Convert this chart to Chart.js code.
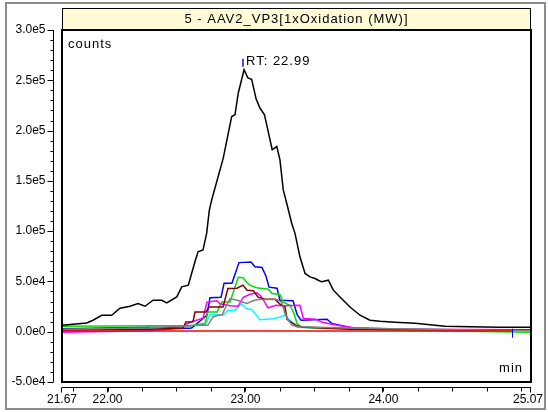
<!DOCTYPE html>
<html>
<head>
<meta charset="utf-8">
<script src="https://cdn.jsdelivr.net/npm/chart.js@4"></script>
<style>
  html, body { margin: 0; padding: 0; background: #fff; }
  canvas { display: block; }
</style>
</head>
<body>
<canvas id="xic" width="548" height="412"></canvas>
<script>
// chromatogram traces, time in min, intensity in counts
const blackT = [21.67, 21.849, 21.895, 21.958, 22.03, 22.09, 22.163, 22.221, 22.272, 22.33, 22.393, 22.429, 22.502, 22.538, 22.586, 22.61, 22.634, 22.656, 22.692, 22.719, 22.738, 22.755, 22.839, 22.9, 22.924, 22.948, 22.99, 23.018, 23.045, 23.077, 23.105, 23.138, 23.154, 23.178, 23.194, 23.227, 23.25, 23.274, 23.299, 23.335, 23.359, 23.395, 23.432, 23.468, 23.504, 23.528, 23.553, 23.601, 23.637, 23.685, 23.758, 23.83, 23.903, 23.975, 24.084, 24.229, 24.338, 24.447, 24.628, 24.845, 25.07];
const blackV = [6400, 8700, 11400, 16300, 16300, 23300, 25300, 28000, 25300, 31300, 31300, 28600, 34600, 44600, 46300, 58200, 69500, 79500, 81200, 98100, 121000, 131000, 172600, 214000, 215700, 237400, 260600, 252300, 251000, 231700, 222400, 215700, 205800, 190800, 180900, 184100, 170900, 141000, 127700, 107800, 97800, 74500, 57900, 54500, 52900, 51200, 49600, 51200, 41300, 34600, 24600, 16400, 11400, 10400, 9400, 8400, 6900, 5400, 4900, 4400, 4400];

const blueT = [21.67, 22.308, 22.562, 22.598, 22.612, 22.721, 22.743, 22.823, 22.845, 22.902, 22.953, 23.04, 23.069, 23.12, 23.149, 23.171, 23.229, 23.25, 23.345, 23.374, 23.403, 23.591, 23.627, 23.758, 23.975, 25.07];
const blueV = [2900, 4400, 3400, 3400, 3900, 16400, 33800, 34300, 48300, 48300, 68700, 69200, 64500, 63900, 55200, 44300, 43300, 31300, 30800, 17300, 11400, 12400, 8100, 4100, 2400, 1400];

const greenT = [21.67, 22.308, 22.598, 22.707, 22.728, 22.794, 22.828, 22.888, 22.948, 22.982, 23.009, 23.033, 23.081, 23.166, 23.193, 23.25, 23.274, 23.323, 23.352, 23.374, 23.403, 23.685, 24.12, 25.07];
const greenV = [5400, 5900, 5900, 8100, 19600, 19600, 29600, 29600, 54200, 53700, 49200, 46300, 43800, 42300, 38000, 37000, 29300, 26300, 18000, 8100, 4400, 3400, 1400, -600];

const maroonT = [21.67, 22.308, 22.547, 22.568, 22.62, 22.634, 22.714, 22.736, 22.837, 22.873, 22.939, 22.982, 23.011, 23.057, 23.091, 23.142, 23.214, 23.25, 23.287, 23.301, 23.323, 23.374, 23.424, 23.758, 25.07];
const maroonV = [1400, 2400, 3400, 9700, 9900, 19600, 19600, 24600, 24600, 43000, 43300, 46300, 41300, 40800, 34300, 32300, 32300, 27300, 24300, 12400, 10400, 5900, 4400, 2400, 1400];

const magentaT = [21.67, 22.308, 22.525, 22.598, 22.692, 22.721, 22.794, 22.815, 22.888, 22.946, 22.984, 23.033, 23.084, 23.113, 23.164, 23.222, 23.265, 23.395, 23.42, 23.511, 23.555, 23.664, 23.78, 24.12, 25.07];
const magentaV = [-600, 900, 3400, 9400, 13400, 29300, 30800, 27800, 25800, 25300, 34300, 37300, 38800, 35300, 23800, 26300, 25800, 26300, 13100, 12400, 9400, 6400, 4100, 2400, 1900];

const grayT = [21.67, 22.308, 22.656, 22.728, 22.765, 22.801, 22.83, 22.888, 22.939, 23.011, 23.055, 23.091, 23.229, 23.263, 23.287, 23.311, 23.338, 23.381, 23.83, 25.07];
const grayV = [2400, 3900, 6400, 6400, 14700, 16400, 16900, 33000, 31300, 28000, 30800, 32000, 32000, 29300, 18000, 11400, 6400, 4900, 3400, 900];

const cyanT = [21.67, 22.308, 22.67, 22.707, 22.743, 22.837, 22.873, 22.924, 22.973, 23.004, 23.047, 23.105, 23.2, 23.25, 23.287, 23.323, 23.352, 23.374, 23.83, 25.07];
const cyanV = [2400, 3400, 6400, 7400, 16800, 16400, 21300, 21300, 28000, 23000, 21800, 11900, 12900, 14700, 16400, 11400, 7400, 4400, 2400, 1400];

const redT = [21.67, 24.93];
const redV = [600, 600];

// axis ticks
const yMajor = [-50000, 0, 50000, 100000, 150000, 200000, 250000, 300000];
const yMinorStep = 10000;
const xLabels = [21.67, 22.00, 23.00, 24.00, 25.07];
const xMinorStep = 0.25;

const titleText = '5 - AAV2_VP3[1xOxidation (MW)]';
const rtTimes = [22.99];
const sideMarks = [24.93];

const FONT = '12px "Liberation Sans", Arial, sans-serif';
const FONT_BIG = '13px "Liberation Sans", Arial, sans-serif';

function pts(ts, vs) {
  return ts.map((t, i) => ({ x: t, y: vs[i] }));
}

function line(label, ts, vs, color) {
  return {
    label: label,
    data: pts(ts, vs),
    borderColor: color,
    borderWidth: 1.5,
    pointRadius: 0,
    tension: 0,
    fill: false
  };
}

function fmtExp(v) {
  if (v === 0) return '0.0e0';
  const e = Math.floor(Math.log10(Math.abs(v)));
  const m = v / Math.pow(10, e);
  return m.toFixed(1) + 'e' + e;
}

function wideText(ctx, s, px, py) {
  ctx.font = FONT_BIG;
  ctx.letterSpacing = '1px';
  ctx.fillText(s, px, py);
  ctx.letterSpacing = '0px';
  ctx.font = FONT;
}

const frame = {
  id: 'frame',
  beforeDraw(chart) {
    const { ctx, chartArea: { left, right, top } } = chart;
    ctx.save();
    ctx.fillStyle = '#fff';
    ctx.fillRect(0, 0, chart.width, chart.height);
    ctx.strokeStyle = '#8c8c8c';
    ctx.lineWidth = 2;
    ctx.strokeRect(6, 3, 539, 406);
    // title bar
    ctx.fillStyle = '#fffbd6';
    ctx.fillRect(left, 8, right - left, top - 8);
    ctx.strokeStyle = '#000';
    ctx.lineWidth = 1;
    ctx.strokeRect(left + 0.5, 8.5, right - left - 1, top - 8);
    ctx.fillStyle = '#000';
    ctx.textAlign = 'center';
    ctx.textBaseline = 'middle';
    wideText(ctx, titleText, (left + right) / 2, 19);
    ctx.restore();
  },
  afterDatasetsDraw(chart) {
    const { ctx, chartArea: { left, right, top, bottom }, scales: { x, y } } = chart;
    ctx.save();
    ctx.strokeStyle = '#000';
    ctx.lineWidth = 2;
    ctx.strokeRect(left, top, right - left, bottom - top);

    ctx.lineWidth = 1;
    ctx.fillStyle = '#000';
    ctx.font = FONT;

    // y axis, set off to the left of the box
    const ax = left - 8.5;
    ctx.beginPath();
    ctx.moveTo(ax, y.getPixelForValue(y.max));
    ctx.lineTo(ax, y.getPixelForValue(y.min));
    for (let v = y.min; v <= y.max + 1; v += yMinorStep) {
      const py = Math.round(y.getPixelForValue(v)) + 0.5;
      const major = yMajor.includes(v);
      ctx.moveTo(ax - (major ? 6 : 3), py);
      ctx.lineTo(ax, py);
    }
    ctx.stroke();
    ctx.textAlign = 'right';
    ctx.textBaseline = 'middle';
    yMajor.forEach(v => ctx.fillText(fmtExp(v), ax - 8, y.getPixelForValue(v)));

    // x axis, below the box
    const ay = bottom + 5.5;
    ctx.beginPath();
    ctx.moveTo(x.getPixelForValue(x.min), ay);
    ctx.lineTo(x.getPixelForValue(x.max), ay);
    const first = Math.ceil(x.min / xMinorStep) * xMinorStep;
    for (let t = first; t < x.max - 0.01; t += xMinorStep) {
      const px = Math.round(x.getPixelForValue(t)) + 0.5;
      ctx.moveTo(px, ay);
      ctx.lineTo(px, ay + 4);
    }
    xLabels.forEach(t => {
      const px = Math.round(x.getPixelForValue(t)) - 0.5;
      ctx.moveTo(px, ay);
      ctx.lineTo(px, ay + 5);
    });
    ctx.stroke();
    ctx.textAlign = 'center';
    ctx.textBaseline = 'middle';
    xLabels.forEach(t => {
      let px = x.getPixelForValue(t);
      if (t === x.max) px -= 3;
      ctx.fillText(t.toFixed(2), px, bottom + 18);
    });

    // inside labels
    ctx.textAlign = 'left';
    wideText(ctx, 'counts', left + 6, top + 14);
    ctx.textAlign = 'right';
    wideText(ctx, 'min', right - 8, bottom - 14);

    // retention time marks
    const peak = Math.max(...blackV);
    rtTimes.forEach(t => {
      const px = Math.round(x.getPixelForValue(t)) - 1;
      const py = y.getPixelForValue(peak);
      ctx.strokeStyle = '#4848ff';
      ctx.lineWidth = 2;
      ctx.beginPath();
      ctx.moveTo(px, py - 11);
      ctx.lineTo(px, py - 3);
      ctx.stroke();
      ctx.textAlign = 'left';
      wideText(ctx, 'RT: ' + t.toFixed(2), px + 3, py - 8);
    });
    sideMarks.forEach(t => {
      const px = Math.round(x.getPixelForValue(t)) + 0.5;
      const py = y.getPixelForValue(0);
      ctx.strokeStyle = '#0000ff';
      ctx.lineWidth = 1;
      ctx.beginPath();
      ctx.moveTo(px, py - 3);
      ctx.lineTo(px, py + 6);
      ctx.stroke();
    });
    ctx.restore();
  }
};

new Chart(document.getElementById('xic'), {
  type: 'line',
  data: {
    datasets: [
      line('red', redT, redV, '#ff0000'),
      line('black', blackT, blackV, '#000000'),
      line('gray', grayT, grayV, '#808080'),
      line('maroon', maroonT, maroonV, '#800000'),
      line('magenta', magentaT, magentaV, '#ff00ff'),
      line('green', greenT, greenV, '#00e000'),
      line('blue', blueT, blueV, '#0000ff'),
      line('cyan', cyanT, cyanV, '#00ffff')
    ]
  },
  options: {
    responsive: false,
    animation: false,
    layout: { padding: { left: 62, right: 17, top: 30, bottom: 30 } },
    plugins: {
      legend: { display: false },
      tooltip: { enabled: false },
      title: { display: false }
    },
    scales: {
      x: { type: 'linear', min: 21.67, max: 25.07, display: false },
      y: { min: -50000, max: 300000, display: false }
    }
  },
  plugins: [frame]
});
</script>
</body>
</html>
